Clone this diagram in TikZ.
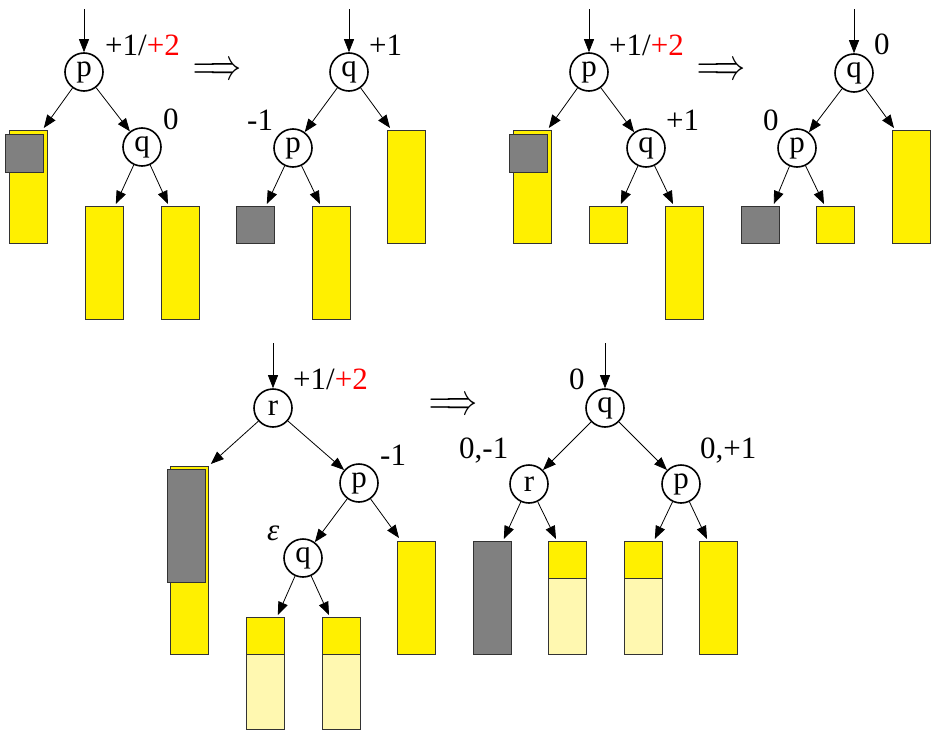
\documentclass[tikz,border=0pt]{standalone}
\usepackage{graphicx}
\usepackage{fontspec}
\setmainfont{Liberation Serif}
\usetikzlibrary{calc,arrows.meta}
\definecolor{yel}{RGB}{255,240,0}
\definecolor{lyel}{RGB}{255,248,176}
\definecolor{gry}{RGB}{128,128,128}
\newcommand{\implsym}{\resizebox{48pt}{16pt}{$\Longrightarrow$}}
\begin{document}
\begin{tikzpicture}[x=1pt,y=-1pt,
  every node/.style={font=\fontsize{31}{31}\selectfont},
  vtx/.style={circle,draw,line width=1.6pt,minimum size=38pt,inner sep=0pt},
  arr/.style={-{Triangle[length=13pt,width=10pt]},line width=0.8pt},
  box/.style={draw=black!80,line width=0.8pt,anchor=north west,inner sep=0pt,minimum width=38pt},
  yb/.style={box,fill=yel},
  lb/.style={box,fill=lyel},
  gb/.style={box,fill=gry},
  lbl/.style={anchor=base west,inner sep=0pt},
  impl/.style={inner sep=0pt}]
\useasboundingbox (0,0) rectangle (934,736);
% ---------- panel 1 ----------
\node[vtx] (p1) at (84,72) {p};
\node[vtx] (q1) at (142,147) {q};
\coordinate (in1) at (84,9);
\node[yb,minimum height=113pt] (L1) at (9,130) {};
\node[gb,minimum height=38pt] (G1) at (5,134) {};
\node[yb,minimum height=113pt] (A1) at (85,206) {};
\node[yb,minimum height=113pt] (B1) at (161,206) {};
\node[lbl] (t1) at (105,55) {+1/\textcolor{red}{+2}};
\node[lbl] (t1b) at (163,129) {0};
\draw[arr] (in1) -- (p1);
\draw[arr] (p1) -- ($(L1.north east)+(-4,-2)$);
\draw[arr] (p1) -- (q1);
\draw[arr] (q1) -- ($(A1.north east)+(-8,-2)$);
\draw[arr] (q1) -- ($(B1.north west)+(7,-2)$);
\node[impl] (i1) at (217,71) {\implsym};
% ---------- panel 2 ----------
\node[vtx] (q2) at (349,72) {q};
\node[vtx] (p2) at (293,148) {p};
\coordinate (in2) at (349,9);
\node[gb,minimum height=37pt] (G2) at (236,206) {};
\node[yb,minimum height=113pt] (Y2) at (312,206) {};
\node[yb,minimum height=113pt] (R2) at (387,130) {};
\node[lbl] (t2) at (369,55) {+1};
\node[lbl] (t2b) at (247,130) {-1};
\draw[arr] (in2) -- (q2);
\draw[arr] (q2) -- (p2);
\draw[arr] (q2) -- ($(R2.north west)+(3,-2)$);
\draw[arr] (p2) -- ($(G2.north east)+(-8,-2)$);
\draw[arr] (p2) -- ($(Y2.north west)+(8,-2)$);
% ---------- panel 3 ----------
\node[vtx] (p3) at (589,72) {p};
\node[vtx] (q3) at (646,148) {q};
\coordinate (in3) at (589,9);
\node[yb,minimum height=113pt] (L3) at (513,130) {};
\node[gb,minimum height=38pt] (G3) at (509,134) {};
\node[yb,minimum height=37pt] (S3) at (589,206) {};
\node[yb,minimum height=113pt] (T3) at (665,206) {};
\node[lbl] (t3) at (609,55) {+1/\textcolor{red}{+2}};
\node[lbl] (t3b) at (666,130) {+1};
\draw[arr] (in3) -- (p3);
\draw[arr] (p3) -- ($(L3.north east)+(-3,-2)$);
\draw[arr] (p3) -- (q3);
\draw[arr] (q3) -- ($(S3.north east)+(-7,-2)$);
\draw[arr] (q3) -- ($(T3.north west)+(8,-2)$);
\node[impl] (i3) at (721,71) {\implsym};
% ---------- panel 4 ----------
\node[vtx] (q4) at (854,73) {q};
\node[vtx] (p4) at (797,148) {p};
\coordinate (in4) at (854,9);
\node[gb,minimum height=37pt] (G4) at (741,206) {};
\node[yb,minimum height=37pt] (S4) at (816,206) {};
\node[yb,minimum height=113pt] (R4) at (892,130) {};
\node[lbl] (t4) at (874,54) {0};
\node[lbl] (t4b) at (763,130) {0};
\draw[arr] (in4) -- (q4);
\draw[arr] (q4) -- (p4);
\draw[arr] (q4) -- ($(R4.north west)+(2,-2)$);
\draw[arr] (p4) -- ($(G4.north east)+(-6,-2)$);
\draw[arr] (p4) -- ($(S4.north west)+(8,-2)$);
% ---------- panel 5 ----------
\node[vtx] (r5) at (273,408) {r};
\node[vtx] (p5) at (359,483) {p};
\node[vtx] (q5) at (303,558) {q};
\coordinate (in5) at (273,343);
\node[yb,minimum height=188pt] (L5) at (170,466) {};
\node[gb,minimum height=113pt] (G5) at (167,469) {};
\node[yb,minimum height=113pt] (R5) at (397,541) {};
\node[lb,minimum height=112pt] (Qa) at (246,617) {};
\node[yb,minimum height=37pt] (Qat) at (246,617) {};
\node[lb,minimum height=112pt] (Qb) at (322,617) {};
\node[yb,minimum height=37pt] (Qbt) at (322,617) {};
\node[lbl] (t5) at (293,389) {+1/\textcolor{red}{+2}};
\node[lbl] (t5b) at (380,465) {-1};
\node[lbl] (t5c) at (267,540) {\textit{ε}};
\draw[arr] (in5) -- (r5);
\draw[arr] (r5) -- ($(L5.north east)+(2,-2)$);
\draw[arr] (r5) -- (p5);
\draw[arr] (p5) -- (q5);
\draw[arr] (p5) -- ($(R5.north west)+(2,-3)$);
\draw[arr] (q5) -- ($(Qa.north east)+(-7,-2)$);
\draw[arr] (q5) -- ($(Qb.north west)+(7,-2)$);
\node[impl] (i5) at (453,406) {\implsym};
% ---------- panel 6 ----------
\node[vtx] (q6) at (605,408) {q};
\node[vtx] (r6) at (529,484) {r};
\node[vtx] (p6) at (681,484) {p};
\coordinate (in6) at (605,343);
\node[gb,minimum height=113pt] (G6) at (473,541) {};
\node[lb,minimum height=113pt] (Ya) at (548,541) {};
\node[yb,minimum height=37pt] (Yat) at (548,541) {};
\node[lb,minimum height=113pt] (Yb) at (624,541) {};
\node[yb,minimum height=37pt] (Ybt) at (624,541) {};
\node[yb,minimum height=113pt] (Yc) at (699,541) {};
\node[lbl] (t6) at (569,389) {0};
\node[lbl] (t6b) at (459,458) {0,-1};
\node[lbl] (t6c) at (700,458) {0,+1};
\draw[arr] (in6) -- (q6);
\draw[arr] (q6) -- (r6);
\draw[arr] (q6) -- (p6);
\draw[arr] (r6) -- ($(G6.north east)+(-8,-2)$);
\draw[arr] (r6) -- ($(Ya.north west)+(8,-2)$);
\draw[arr] (p6) -- ($(Yb.north east)+(-8,-2)$);
\draw[arr] (p6) -- ($(Yc.north west)+(8,-2)$);
\end{tikzpicture}
\end{document}
